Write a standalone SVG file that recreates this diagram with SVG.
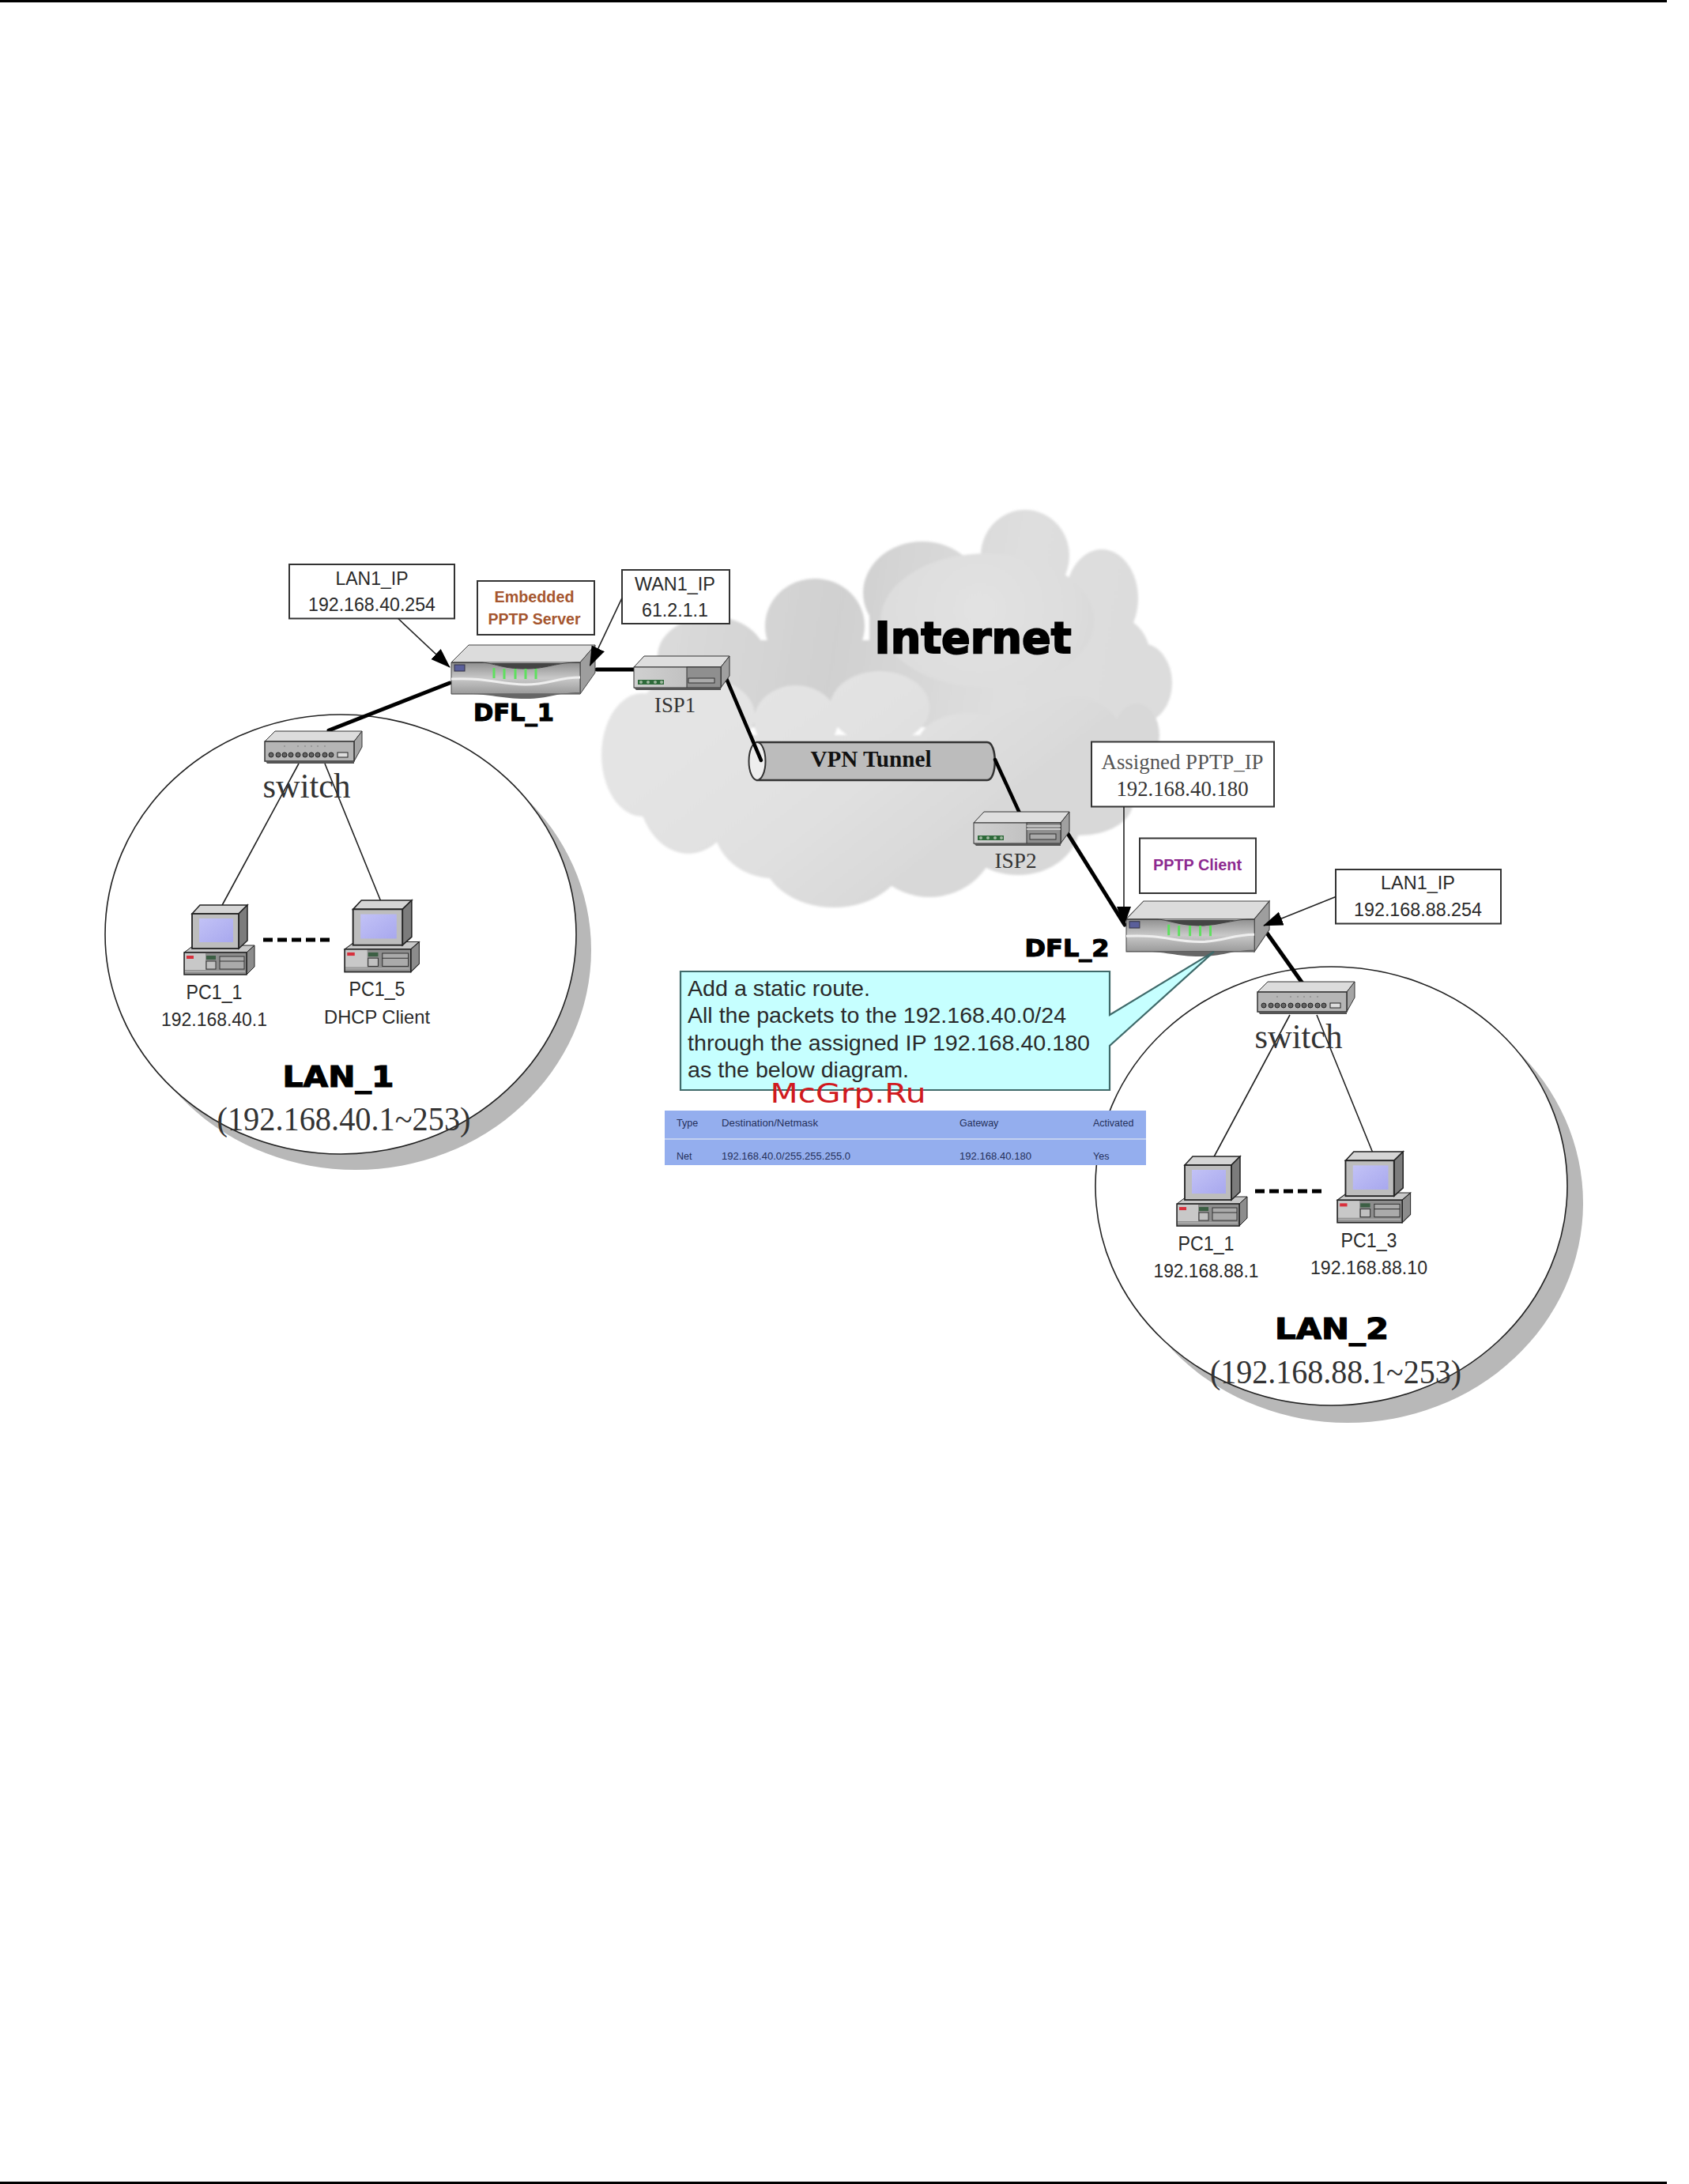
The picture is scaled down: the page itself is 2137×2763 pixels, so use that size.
<svg xmlns="http://www.w3.org/2000/svg" xmlns:xlink="http://www.w3.org/1999/xlink" width="2137" height="2763" viewBox="0 0 2137 2763">
<style>
.a{font-family:"Liberation Sans",Arial,sans-serif;fill:#2a2a2a;text-anchor:middle}
.t{font-family:"Liberation Serif","Times New Roman",serif;fill:#333;text-anchor:middle}
.h{font-family:"DejaVu Sans",sans-serif;font-weight:bold;fill:#000;stroke:#000;stroke-width:1.2;text-anchor:middle}
.box{fill:#fff;stroke:#333;stroke-width:2}
.thin{stroke:#222;stroke-width:1.6;fill:none}
.thick{stroke:#000;stroke-width:5;fill:none;stroke-linecap:round}
.tb{font-family:"Liberation Sans",Arial,sans-serif;font-size:12.5px;fill:#25305a}
</style>
<defs>
<filter id="soft" x="-5%" y="-5%" width="110%" height="110%"><feGaussianBlur stdDeviation="1.5"/></filter>
<marker id="ah" markerUnits="userSpaceOnUse" markerWidth="26" markerHeight="20" refX="24" refY="9" orient="auto"><path d="M0 0L25 9L0 18Z" fill="#000"/></marker>
<linearGradient id="cb" gradientUnits="userSpaceOnUse" x1="850" y1="760" x2="1450" y2="860"><stop offset="0" stop-color="#dadada"/><stop offset=".35" stop-color="#d0d0d0"/><stop offset=".7" stop-color="#dedede"/><stop offset="1" stop-color="#dcdcdc"/></linearGradient>
<radialGradient id="ci" gradientUnits="userSpaceOnUse" cx="1240" cy="770" r="150"><stop offset="0" stop-color="#e2e2e2"/><stop offset=".8" stop-color="#dddddd"/><stop offset="1" stop-color="#d8d8d8"/></radialGradient>
<linearGradient id="cf" gradientUnits="userSpaceOnUse" x1="900" y1="890" x2="1100" y2="1150"><stop offset="0" stop-color="#e4e4e4"/><stop offset=".6" stop-color="#e0e0e0"/><stop offset="1" stop-color="#d8d8d8"/></linearGradient>
<linearGradient id="rf" x1="0" y1="0" x2="0" y2="1"><stop offset="0" stop-color="#8f8f8f"/><stop offset=".5" stop-color="#c9c9c9"/><stop offset="1" stop-color="#9a9a9a"/></linearGradient>
<linearGradient id="lg" x1="0" y1="0" x2="1" y2="0"><stop offset="0" stop-color="#d0d0d0"/><stop offset="1" stop-color="#b8b8b8"/></linearGradient>
<linearGradient id="sc" x1="0" y1="0" x2="1" y2="1"><stop offset="0" stop-color="#c2c2f6"/><stop offset="1" stop-color="#a8a8ee"/></linearGradient>
<g id="router">
<path d="M1 22L23 0H183L164 22Z" fill="#dcdcdc" stroke="#444" stroke-width="1"/>
<path d="M164 22L183 0V35L164 62Z" fill="#9e9e9e" stroke="#444" stroke-width="1"/>
<path d="M1 22H40C60 24 65 30 95 30C125 30 130 22 164 22V62H1Z" fill="url(#rf)" stroke="#444" stroke-width="1"/>
<path d="M1 22H40C60 24 65 30 95 30C125 30 130 22 164 22L164 23L1 23Z" fill="#444"/>
<path d="M1 43C50 41 60 50 95 50C125 50 135 41 164 41" fill="none" stroke="#eee" stroke-width="3"/>
<path d="M1 62C50 60 60 68 95 68C125 68 135 60 164 60V62H1Z" fill="#666"/>
<rect x="5" y="25" width="13" height="8" fill="#5a5f9a" stroke="#334" stroke-width="1"/>
<g stroke="#5fe05f" stroke-width="3"><path d="M55 29V42M68 30V43M82 30V43M95 30V43M108 30V43"/></g>
</g>
<g id="isp">
<path d="M0 14L13 0H121L110 14Z" fill="#dedede" stroke="#333" stroke-width="1"/>
<path d="M110 14L121 0V25L110 40Z" fill="#a0a0a0" stroke="#333" stroke-width="1"/>
<rect x="0" y="14" width="110" height="26" fill="url(#lg)" stroke="#333" stroke-width="1"/>
<rect x="67" y="14" width="43" height="26" fill="#8f8f8f" stroke="#333" stroke-width="1"/>
<path d="M0 40H110V43H3Z" fill="#555"/>
<rect x="5" y="30" width="33" height="6" fill="#2e6a3a"/>
<g fill="#9fb89f"><circle cx="9" cy="33" r="2"/><circle cx="18" cy="33" r="2"/><circle cx="27" cy="33" r="2"/><circle cx="35" cy="33" r="2"/></g>
</g>
<g id="sw">
<path d="M1 13L14 0H124L114 13Z" fill="#dcdcdc" stroke="#333" stroke-width="1"/>
<path d="M114 13L124 0V20L114 38Z" fill="#a5a5a5" stroke="#333" stroke-width="1"/>
<rect x="1" y="13" width="113" height="25" fill="#b5b5b5" stroke="#333" stroke-width="1.5"/>
<path d="M2 38H114V41H4Z" fill="#555"/>
<g fill="#666" stroke="#222"><circle cx="9" cy="30" r="3"/><circle cx="18" cy="30" r="3"/><circle cx="26" cy="30" r="3"/><circle cx="34" cy="30" r="3"/><circle cx="43" cy="30" r="3"/><circle cx="52" cy="30" r="3"/><circle cx="60" cy="30" r="3"/><circle cx="68" cy="30" r="3"/><circle cx="77" cy="30" r="3"/><circle cx="85" cy="30" r="3"/></g>
<rect x="93" y="27" width="13" height="6" fill="#ddd" stroke="#222"/>
<g fill="#777"><circle cx="26" cy="19" r=".8"/><circle cx="43" cy="19" r=".8"/><circle cx="52" cy="19" r=".8"/><circle cx="60" cy="19" r=".8"/><circle cx="68" cy="19" r=".8"/><circle cx="77" cy="19" r=".8"/></g>
</g>
<g id="pc">
<path d="M1 61L13 52H90L80 61Z" fill="#c8c8c8" stroke="#222"/>
<path d="M80 61L90 52V79L80 89Z" fill="#8c8c8c" stroke="#222"/>
<rect x="1" y="61" width="79" height="28" fill="#8e8e8e" stroke="#222" stroke-width="1.5"/>
<rect x="2" y="62" width="26" height="21" fill="#c8c8c8"/>
<rect x="4" y="65" width="9" height="4" fill="#d8303c"/>
<rect x="29" y="65" width="12" height="5" fill="#3c5f44"/><rect x="29" y="72" width="12" height="10" fill="#c0c0c0" stroke="#333"/>
<rect x="46" y="66" width="31" height="16" fill="#aaa" stroke="#333"/><path d="M46 72H77" stroke="#333"/>
<path d="M2 85H78" stroke="#aaa" stroke-width="2"/>
<path d="M11 12L21 1H81L70 12Z" fill="#d5d5d5" stroke="#222" stroke-width="1.5"/>
<path d="M70 12L81 1V46L70 56Z" fill="#7c7c7c" stroke="#222" stroke-width="1.5"/>
<rect x="11" y="12" width="59" height="44" fill="#bdbdbd" stroke="#222" stroke-width="1.8"/>
<rect x="20" y="18" width="43" height="30" fill="url(#sc)"/>
</g>
</defs>

<rect width="2137" height="2763" fill="#fff"/>
<rect x="0" y="0" width="2109" height="3" fill="#000"/>
<rect x="0" y="2760" width="2109" height="3" fill="#000"/>

<g id="cloud" filter="url(#soft)">
<g fill="url(#cb)">
<ellipse cx="1297" cy="703" rx="56" ry="58"/><ellipse cx="1394" cy="757" rx="46" ry="62"/><ellipse cx="1167" cy="750" rx="75" ry="65"/><ellipse cx="1031" cy="792" rx="63" ry="60"/><ellipse cx="900" cy="830" rx="68" ry="50"/><ellipse cx="1445" cy="864" rx="38" ry="50"/>
<ellipse cx="1410" cy="830" rx="45" ry="50"/><rect x="900" y="810" width="520" height="110"/><rect x="1100" y="740" width="300" height="100"/>
</g>
<ellipse cx="1249" cy="785" rx="135" ry="85" fill="url(#ci)"/>
<g fill="url(#cf)">
<ellipse cx="813" cy="955" rx="52" ry="78"/><ellipse cx="871" cy="992" rx="65" ry="88"/><ellipse cx="978" cy="1043" rx="75" ry="68"/><ellipse cx="1055" cy="1078" rx="92" ry="70"/><ellipse cx="1176" cy="1054" rx="85" ry="81"/><ellipse cx="1288" cy="1043" rx="78" ry="64"/><ellipse cx="1365" cy="1016" rx="68" ry="41"/>
<ellipse cx="1007" cy="912" rx="53" ry="45"/><ellipse cx="1113" cy="895" rx="63" ry="46"/><ellipse cx="1225" cy="940" rx="63" ry="38"/><ellipse cx="1297" cy="936" rx="50" ry="38"/><ellipse cx="1356" cy="930" rx="63" ry="48"/><ellipse cx="1438" cy="930" rx="29" ry="40"/>
<ellipse cx="880" cy="905" rx="75" ry="50"/><rect x="850" y="930" width="540" height="110"/>
</g>
</g>

<g id="lan1">
<ellipse cx="450" cy="1202" rx="298" ry="278" fill="#b8b8b8"/>
<ellipse cx="431" cy="1182" rx="298" ry="278" fill="#fff" stroke="#222" stroke-width="1.6"/>
<text class="h" x="428" y="1375" font-size="38" textLength="141" lengthAdjust="spacingAndGlyphs">LAN_1</text>
<text class="t" x="435" y="1430" font-size="42" textLength="321" lengthAdjust="spacingAndGlyphs">(192.168.40.1~253)</text>
</g>
<g id="lan2">
<ellipse cx="1705" cy="1522" rx="298" ry="278" fill="#b8b8b8"/>
<ellipse cx="1684.500" cy="1500.500" rx="298.500" ry="277.500" fill="#fff" stroke="#222" stroke-width="1.6"/>
<text class="h" x="1685" y="1694" font-size="38" textLength="144" lengthAdjust="spacingAndGlyphs">LAN_2</text>
<text class="t" x="1690" y="1750" font-size="42" textLength="318" lengthAdjust="spacingAndGlyphs">(192.168.88.1~253)</text>
</g>

<g id="tunnel">
<path d="M958 939H1249C1262 939 1262 987 1249 987H958Z" fill="#bcbcbc" stroke="#333" stroke-width="2.500"/>
<ellipse cx="958" cy="963" rx="10.500" ry="24" fill="#eee" stroke="#333" stroke-width="2"/>
<text x="1102" y="970" font-family="Liberation Serif,serif" font-weight="bold" font-size="29" fill="#111" text-anchor="middle" textLength="153" lengthAdjust="spacingAndGlyphs">VPN Tunnel</text>
</g>

<g id="connectors">
<path class="thick" d="M755 847H802"/>
<path class="thick" d="M569 864L416 924"/>
<path class="thin" d="M378 966L279 1149M411 966L483 1143"/>
<path class="thick" style="stroke-dasharray:12 6;stroke-linecap:butt;stroke-width:5" d="M333 1189H421"/>
<path class="thick" style="stroke-width:4.500" d="M915 849L963 962"/>
<path class="thick" style="stroke-width:4.500" d="M1259 961L1293 1035"/>
<path class="thick" d="M1350 1053L1423 1170"/>
<path class="thick" d="M1597 1172L1653 1251"/>
<path class="thin" d="M1632 1284L1533 1469M1666 1284L1738 1461"/>
<path class="thick" style="stroke-dasharray:12 6;stroke-linecap:butt;stroke-width:5" d="M1588 1507H1676"/>
</g>

<g id="dfl1"><use href="#router" transform="translate(570 816)"/><text class="h" x="650" y="912" font-size="30" textLength="102" lengthAdjust="spacingAndGlyphs">DFL_1</text></g>
<g id="dfl2"><use href="#router" transform="translate(1424 1140) scale(.995 1.03)"/><text class="h" x="1350" y="1210" font-size="30" textLength="107" lengthAdjust="spacingAndGlyphs">DFL_2</text></g>
<g id="isp1"><use href="#isp" transform="translate(802 830)"/><rect x="871" y="858" width="33" height="6" fill="#aaa" stroke="#333"/><text class="t" x="854" y="901" font-size="28" textLength="52" lengthAdjust="spacingAndGlyphs">ISP1</text></g>
<g id="isp2"><use href="#isp" transform="translate(1232 1027)"/><path d="M1299 1045H1342M1299 1049H1342" stroke="#ddd" stroke-width="1.500"/><rect x="1303" y="1055" width="33" height="7" fill="#aaa" stroke="#333"/><text class="t" x="1285" y="1098" font-size="28" textLength="53" lengthAdjust="spacingAndGlyphs">ISP2</text></g>
<g id="switch1"><use href="#sw" transform="translate(334 925)"/><text class="t" x="388" y="1009" font-size="44" textLength="111" lengthAdjust="spacingAndGlyphs">switch</text></g>
<g id="switch2"><use href="#sw" transform="translate(1590 1242)"/><text class="t" x="1643" y="1326" font-size="44" textLength="111" lengthAdjust="spacingAndGlyphs">switch</text></g>
<g id="pc1-1"><use href="#pc" transform="translate(232 1144)"/><text class="a" x="271" y="1264" font-size="25" textLength="71" lengthAdjust="spacingAndGlyphs">PC1_1</text><text class="a" x="271" y="1298" font-size="24" textLength="134" lengthAdjust="spacingAndGlyphs">192.168.40.1</text></g>
<g id="pc1-5"><use href="#pc" transform="translate(435 1138) scale(1.060 1.030)"/><text class="a" x="477" y="1260" font-size="25" textLength="71" lengthAdjust="spacingAndGlyphs">PC1_5</text><text class="a" x="477" y="1295" font-size="24" textLength="134" lengthAdjust="spacingAndGlyphs">DHCP Client</text></g>
<g id="pc2-1"><use href="#pc" transform="translate(1488 1462)"/><text class="a" x="1526" y="1582" font-size="25" textLength="71" lengthAdjust="spacingAndGlyphs">PC1_1</text><text class="a" x="1526" y="1616" font-size="24" textLength="133" lengthAdjust="spacingAndGlyphs">192.168.88.1</text></g>
<g id="pc2-3"><use href="#pc" transform="translate(1691 1456) scale(1.040 1.020)"/><text class="a" x="1732" y="1578" font-size="25" textLength="71" lengthAdjust="spacingAndGlyphs">PC1_3</text><text class="a" x="1732" y="1612" font-size="24" textLength="148" lengthAdjust="spacingAndGlyphs">192.168.88.10</text></g>

<g id="lan1ip"><rect class="box" x="366" y="714" width="209" height="68.500"/><text class="a" x="470.500" y="740" font-size="24" textLength="92" lengthAdjust="spacingAndGlyphs">LAN1_IP</text><text class="a" x="470.500" y="773" font-size="24" textLength="161" lengthAdjust="spacingAndGlyphs">192.168.40.254</text></g>
<g id="server"><rect class="box" x="604" y="735" width="148" height="68"/><text x="676" y="761.500" font-family="Liberation Sans,sans-serif" font-weight="bold" font-size="21" fill="#a5562f" text-anchor="middle" textLength="101" lengthAdjust="spacingAndGlyphs">Embedded</text><text x="676" y="790" font-family="Liberation Sans,sans-serif" font-weight="bold" font-size="21" fill="#a5562f" text-anchor="middle" textLength="117" lengthAdjust="spacingAndGlyphs">PPTP Server</text></g>
<g id="wan1ip"><rect class="box" x="787" y="721" width="136" height="68"/><text class="a" x="854" y="747" font-size="24" textLength="102" lengthAdjust="spacingAndGlyphs">WAN1_IP</text><text class="a" x="854" y="780" font-size="24" textLength="84" lengthAdjust="spacingAndGlyphs">61.2.1.1</text></g>
<g id="assigned"><rect class="box" x="1381" y="938.500" width="231" height="82"/><text class="t" x="1496" y="972.500" font-size="28" textLength="205" lengthAdjust="spacingAndGlyphs" style="fill:#555">Assigned PPTP_IP</text><text class="t" x="1496" y="1007" font-size="28" textLength="167" lengthAdjust="spacingAndGlyphs" style="fill:#333">192.168.40.180</text></g>
<g id="client"><rect class="box" x="1442" y="1060.500" width="147" height="69.500"/><text x="1515" y="1101" font-family="Liberation Sans,sans-serif" font-weight="bold" font-size="21" fill="#8e2a90" text-anchor="middle" textLength="112" lengthAdjust="spacingAndGlyphs">PPTP Client</text></g>
<g id="lan2ip"><rect class="box" x="1690" y="1100" width="209" height="68.500"/><text class="a" x="1794" y="1125" font-size="24" textLength="94" lengthAdjust="spacingAndGlyphs">LAN1_IP</text><text class="a" x="1794" y="1158.500" font-size="24" textLength="162" lengthAdjust="spacingAndGlyphs">192.168.88.254</text></g>

<g id="callouts">
<path class="thin" marker-end="url(#ah)" d="M503.700 782.500L569 844"/>
<path class="thin" marker-end="url(#ah)" d="M787 756.500L746.500 842"/>
<path class="thin" marker-end="url(#ah)" d="M1422 1020.500V1171"/>
<path class="thin" marker-end="url(#ah)" d="M1690 1134.500L1599 1171"/>
</g>

<g id="note">
<path d="M861 1229H1404V1284L1536 1204L1404 1323V1379H861Z" fill="#c6ffff" stroke="#3f6a6a" stroke-width="2.200"/>
<g font-family="Liberation Sans,Arial,sans-serif" font-size="28" fill="#2a2a2a">
<text x="870" y="1260" textLength="231" lengthAdjust="spacingAndGlyphs">Add a static route.</text>
<text x="870" y="1294" textLength="479" lengthAdjust="spacingAndGlyphs">All the packets to the 192.168.40.0/24</text>
<text x="870" y="1329" textLength="509" lengthAdjust="spacingAndGlyphs">through the assigned IP 192.168.40.180</text>
<text x="870" y="1363" textLength="280" lengthAdjust="spacingAndGlyphs">as the below diagram.</text>
</g>
</g>

<g id="table">
<rect x="841" y="1405" width="609" height="69" fill="#94aeee"/>
<rect x="841" y="1440" width="609" height="2" fill="#c3d0f0"/>
<text class="tb" x="856" y="1425">Type</text><text class="tb" x="913" y="1425" textLength="122" lengthAdjust="spacingAndGlyphs">Destination/Netmask</text><text class="tb" x="1214" y="1425">Gateway</text><text class="tb" x="1383" y="1425">Activated</text>
<text class="tb" x="856" y="1467">Net</text><text class="tb" x="913" y="1467" textLength="163" lengthAdjust="spacingAndGlyphs">192.168.40.0/255.255.255.0</text><text class="tb" x="1214" y="1467" textLength="91" lengthAdjust="spacingAndGlyphs">192.168.40.180</text><text class="tb" x="1383" y="1467">Yes</text>
</g>

<text id="internet" x="1231" y="826" font-family="DejaVu Sans,sans-serif" font-weight="bold" font-size="56" fill="#000" stroke="#000" stroke-width="2" text-anchor="middle" textLength="249" lengthAdjust="spacingAndGlyphs">Internet</text>
<text id="watermark" x="1073" y="1395" font-family="DejaVu Sans,sans-serif" font-size="34" fill="#d01a20" text-anchor="middle" textLength="197" lengthAdjust="spacingAndGlyphs">McGrp.Ru</text>
</svg>
